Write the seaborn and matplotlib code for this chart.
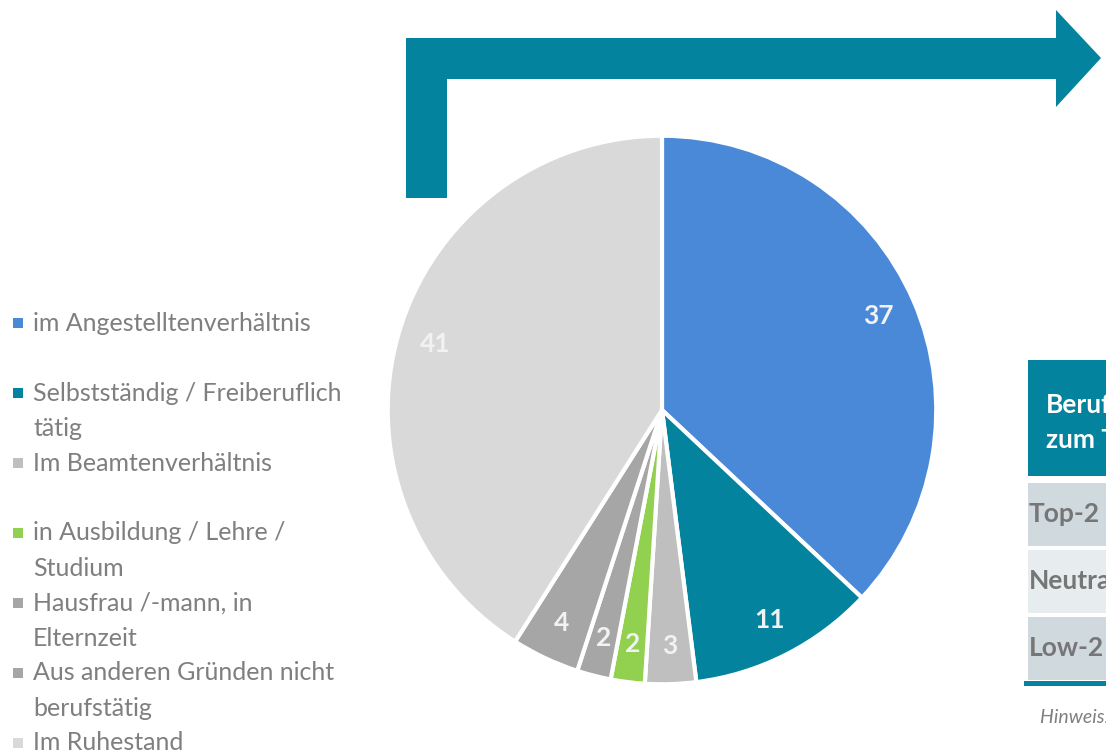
import matplotlib.pyplot as plt
import matplotlib.patches as mpatches
import seaborn as sns

# data
categories = ['im Angestelltenverhältnis', 'Selbstständig / Freiberuflich\ntätig',
              'Im Beamtenverhältnis', 'in Ausbildung / Lehre /\nStudium',
              'Hausfrau /-mann, in\nElternzeit', 'Aus anderen Gründen nicht\nberufstätig',
              'Im Ruhestand']
values = [37, 11, 3, 2, 2, 4, 41]
colors = ['#4a88d8', '#03839d', '#bfbfbf', '#92d050', '#a6a6a6', '#a6a6a6', '#d9d9d9']
table_rows = ['Top-2', 'Neutral', 'Low-2']
table_header = 'Berufstätigkeit\nzum Thema'
note = 'Hinweis: Angaben in Prozent'

sns.set_theme(style='white')
plt.rcParams['font.family'] = ['Lato', 'DejaVu Sans']

W, H = 1106, 753
fig = plt.figure(figsize=(W / 100, H / 100), dpi=100)

# overlay in pixel coords
bg = fig.add_axes([0, 0, 1, 1])
bg.set_xlim(0, W)
bg.set_ylim(H, 0)
bg.axis('off')

teal = '#03839d'
# bent arrow
arrow = mpatches.Polygon([(406, 38), (1056, 38), (1056, 10), (1101, 58), (1056, 107),
                          (1056, 79), (447, 79), (447, 198), (406, 198)],
                         closed=True, color=teal, lw=0)
bg.add_patch(arrow)

# legend
slot_y = 323
for i, (lab, c) in enumerate(zip(categories, colors)):
    y = slot_y + 70 * i
    bg.add_patch(mpatches.Rectangle((13, y - 5), 10, 10, color=c, lw=0))
    for j, line in enumerate(lab.split('\n')):
        bg.text(33, y + 35 * j, line, fontsize=18, color='#7f7f7f', va='center', ha='left')

# table (cut off at right edge)
bg.add_patch(mpatches.Rectangle((1028, 360), 90, 116, color=teal, lw=0))
for k, line in enumerate(table_header.split('\n')):
    bg.text(1046, 405 + 35 * k, line, fontsize=19, fontweight='bold', color='white', va='center')
row_cols = ['#cfd9de', '#e7ecef', '#cfd9de']
for i, (r, c) in enumerate(zip(table_rows, row_cols)):
    y0 = 483 + 67 * i
    bg.add_patch(mpatches.Rectangle((1028, y0), 90, 63, color=c, lw=0))
    bg.text(1029, y0 + 31, r, fontsize=19, fontweight='bold', color='#767676', va='center')
bg.add_patch(mpatches.Rectangle((1024, 681), 90, 5, color=teal, lw=0))
bg.text(1040, 717, note, fontsize=14, fontstyle='italic', color='#7f7f7f', va='center')

# pie
cx, cy, r = 662, 410, 277
pax = fig.add_axes([(cx - r) / W, (H - cy - r) / H, 2 * r / W, 2 * r / H])
it = iter(values)
wedges, texts, autotexts = pax.pie(values, colors=colors, startangle=90, counterclock=False,
                                   autopct=lambda p: str(next(it)), pctdistance=0.86,
                                   wedgeprops=dict(edgecolor='white', linewidth=3))
for t in autotexts:
    t.set_color('#f2f2f2')
    t.set_fontsize(19)
    t.set_fontweight('bold')
pax.set_xlim(-1.01, 1.01)
pax.set_ylim(-1.01, 1.01)
pax.axis('off')

fig.savefig('out.png', dpi=100)
